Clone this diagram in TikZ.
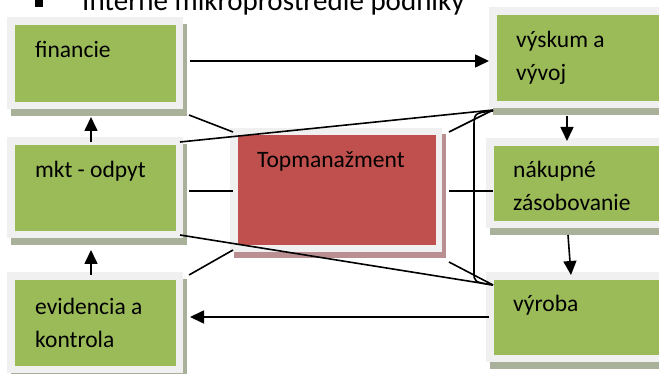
\documentclass[tikz,border=0pt]{standalone}
\usepackage{fontspec}
\setmainfont{Carlito}
\usetikzlibrary{arrows.meta}
\definecolor{framegray}{HTML}{F0F0F0}
\definecolor{gshadow}{HTML}{A9B19A}
\definecolor{rshadow}{HTML}{B98F92}
\definecolor{boxgreen}{HTML}{9BBB59}
\definecolor{boxred}{HTML}{C0504D}
\begin{document}
\begin{tikzpicture}[x=1pt,y=-1pt,
  gbox/.style={fill=framegray, inner sep=0pt, outer sep=0pt, anchor=north west,
    preaction={fill=gshadow, transform canvas={xshift=4pt,yshift=-7pt}},
    path picture={\fill[boxgreen] ([shift={(8pt,-8pt)}]path picture bounding box.north west) rectangle ([shift={(-7pt,7pt)}]path picture bounding box.south east);}},
  rbox/.style={fill=framegray, inner sep=0pt, outer sep=0pt, anchor=north west,
    preaction={fill=rshadow, transform canvas={xshift=4pt,yshift=-6pt}},
    path picture={\fill[boxred] ([shift={(8pt,-7pt)}]path picture bounding box.north west) rectangle ([shift={(-6pt,7pt)}]path picture bounding box.south east);}},
  lbl/.style={font=\fontsize{23.5}{33}\selectfont, inner sep=0pt, anchor=base west},
  arr/.style={-{Triangle[length=14pt,width=13pt]}, line width=1.6pt},
  ln/.style={line width=1.6pt}
]
\path[use as bounding box] (0,0) rectangle (659,374);
\clip (0,0) rectangle (659,374);

% heading
\fill (35,-1) rectangle (43,7);
\node[anchor=base west, inner sep=0pt, font=\fontsize{29}{35}\selectfont] (head) at (82,11) {Interne mikroprostredie podniky};

% boxes
\node[gbox, minimum width=176pt, minimum height=92pt] (fin) at (7,17) {};
\node[gbox, minimum width=176pt, minimum height=101pt] (mkt) at (7,137) {};
\node[gbox, minimum width=176pt, minimum height=101pt] (evi) at (7,272) {};
\node[gbox, minimum width=190pt, minimum height=101pt] (vys) at (489,7) {};
\node[gbox, minimum width=190pt, minimum height=90pt] (nak) at (486,138) {};
\node[gbox, minimum width=190pt, minimum height=90pt] (vyr) at (486,272) {};
\node[rbox, minimum width=212pt, minimum height=124pt] (top) at (230,128) {};

% texts
\node[lbl] (fin-t) at ([shift={(28,41)}]fin.north west) {financie};
\node[lbl] (mkt-t) at ([shift={(28,41)}]mkt.north west) {mkt - odpyt};
\node[lbl] (evi-t) at ([shift={(28,42)}]evi.north west) {\begin{tabular}[t]{@{}l@{}}evidencia a\\kontrola\end{tabular}};
\node[lbl] (vys-t) at ([shift={(27,41)}]vys.north west) {\begin{tabular}[t]{@{}l@{}}výskum a\\vývoj\end{tabular}};
\node[lbl] (nak-t) at ([shift={(27,40)}]nak.north west) {\begin{tabular}[t]{@{}l@{}}nákupné\\zásobovanie\end{tabular}};
\node[lbl] (vyr-t) at ([shift={(27,40)}]vyr.north west) {výroba};
\node[lbl] (top-t) at ([shift={(27,40)}]top.north west) {Topmanažment};

% arrows
\draw[arr] ([shift={(7,-2)}]fin.east) -- ([shift={(0,3.5)}]vys.west);
\draw[arr] ([shift={(-4,5)}]mkt.north) -- ([shift={(-4,8)}]fin.south);
\draw[arr] ([shift={(-4,3)}]evi.north) -- ([shift={(-4,12)}]mkt.south);
\draw[arr] ([shift={(78,8)}]vys.south west) -- ([shift={(81,3)}]nak.north west);
\draw[arr] ([shift={(82,7)}]nak.south west) -- ([shift={(85,3)}]vyr.north west);
\draw[arr] ([shift={(3,0)}]vyr.west) -- ([shift={(7,-5.5)}]evi.east);

% plain lines
\draw[ln] ([shift={(6,6)}]fin.south east) -- ([shift={(3,4)}]top.north west);
\draw[ln] ([shift={(-3,5)}]mkt.north east) -- ([shift={(4,2)}]vys.south west);
\draw[ln] ([shift={(6,3.5)}]mkt.east) -- ([shift={(3,1)}]top.west);
\draw[ln] ([shift={(-3,-3)}]mkt.south east) -- ([shift={(7,13)}]vyr.north west);
\draw[ln] ([shift={(6,3)}]evi.north east) -- ([shift={(3,-2)}]top.south west);
\draw[ln] ([shift={(7,4)}]top.north east) -- ([shift={(4,2)}]vys.south west);
\draw[ln] ([shift={(7,1)}]top.east) -- ([shift={(7,8)}]nak.west);
\draw[ln] ([shift={(7,10)}]top.south east) -- ([shift={(7,13)}]vyr.north west);
\draw[ln] ([shift={(4,3)}]vys.south west) .. controls (474,113) .. (474,128) -- (474,272) .. controls (474,282) .. ([shift={(7,13)}]vyr.north west);
\end{tikzpicture}
\end{document}
